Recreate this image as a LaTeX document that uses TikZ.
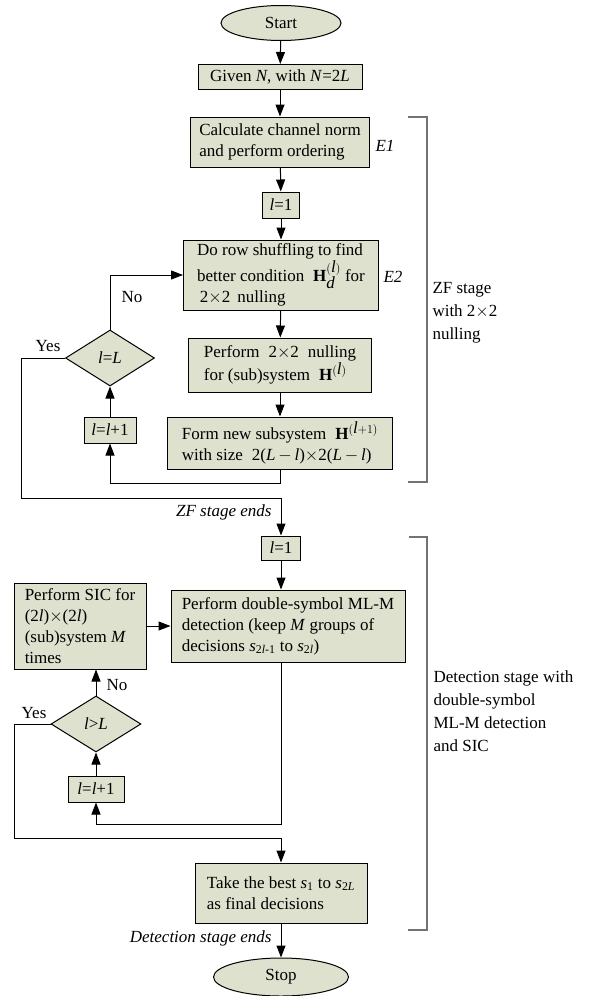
\documentclass[tikz,border=0pt]{standalone}
\usepackage{fontspec}
\setmainfont{Liberation Serif}
\usepackage{tikz}
\usetikzlibrary{arrows.meta,shapes,positioning}
\definecolor{boxfill}{RGB}{221,225,205}
\tikzset{
    startstop/.style={
                ellipse,
                draw=black,
                fill=boxfill,
                inner sep=0pt
            },
        process/.style={
                rectangle,
                draw=black,
                fill=boxfill,
                align=left,
                inner sep=0pt
            },
        decision/.style={
                diamond,
                draw=black,
                fill=boxfill,
                inner sep=0pt
            },
        flow/.style={
                draw=black,
                line width=1pt,
                -{Triangle[length=12pt,width=9pt]}
            },
        plain/.style={draw=none, fill=none, inner sep=0pt},
        bracket/.style={draw=black!55, line width=1.1pt},
}

\begin{document}
\begin{tikzpicture}[
    x=1pt, y=-1pt,
    every node/.style={font=\fontsize{17}{21}\selectfont, line width=1pt},
  ]
  \useasboundingbox (0,0) rectangle (597,996);
  % ZF stage
  \node[startstop, minimum width=120, minimum height=35] (start) at (281,23) {Start};
  \node[process, minimum width=164, minimum height=25] (given) at (280,77) {Given \textit{N}, with \textit{N}=2\textit{L}};
  \node[process, minimum width=179, minimum height=50] (calc) at (280,142) {Calculate channel norm\\and perform ordering};
  \node[plain] (e1) at (385,146) {\textit{E1}};
  \node[process, minimum width=37, minimum height=26] (init1) at (281,205) {\textit{l}=1};
  \node[process, minimum width=195, minimum height=70] (shuffle) at (281,275)
      {Do row shuffling to find\\better condition\; $\textbf{H}_{\textit{d}}^{(\textit{l})}$ for\\\,2$\times$2\, nulling};
  \node[plain] (e2) at (393,277) {\textit{E2}};
  \node[process, minimum width=183, minimum height=54] (null) at (280,365)
      {Perform\; 2$\times$2\; nulling\\for (sub)system\; $\textbf{H}^{(\textit{l})}$};
  \node[process, minimum width=225, minimum height=52] (form) at (280,443)
      {Form new subsystem\; $\textbf{H}^{(\textit{l}+1)}$\\with size\; 2(\textit{L}\,$-$\,\textit{l})$\times$2(\textit{L}\,$-$\,\textit{l})};
  \node[process, minimum width=52, minimum height=26] (inc1) at (110,430) {\textit{l}=\textit{l}+1};
  \node[decision, minimum width=89, minimum height=56] (dec1) at (110,358) {\textit{l}=\textit{L}};
  \node[plain] (no1) at (132,297) {No};
  \node[plain] (yes1) at (48,346) {Yes};
  \node[plain, anchor=east] (zfend) at (272,512) {\textit{ZF stage ends}};
  % Detection stage
  \node[process, minimum width=39, minimum height=24] (init2) at (281,548) {\textit{l}=1};
  \node[process, minimum width=234, minimum height=72] (detect) at (288,626)
      {Perform double-symbol ML-M\\detection (keep \textit{M} groups of\\decisions \textit{s}\textsubscript{2\textit{l}-1} to \textit{s}\textsubscript{2\textit{l}})};
  \node[process, minimum width=132, minimum height=86] (sic) at (80,626)
      {Perform SIC for\\(2\textit{l})$\times$(2\textit{l})\\(sub)system \textit{M}\\times};
  \node[decision, minimum width=90, minimum height=56] (dec2) at (96,724) {\textit{l}>\textit{L}};
  \node[plain] (no2) at (117,685) {No};
  \node[plain] (yes2) at (34,713) {Yes};
  \node[process, minimum width=56, minimum height=26] (inc2) at (96,789) {\textit{l}=\textit{l}+1};
  \node[process, minimum width=172, minimum height=60] (best) at (281,893)
      {Take the best \textit{s}\textsubscript{1} to \textit{s}\textsubscript{2\textit{L}}\\as final decisions};
  \node[plain, anchor=east] (detend) at (272,938) {\textit{Detection stage ends}};
  \node[startstop, minimum width=135, minimum height=38] (stop) at (281,977) {Stop};
  % Stage labels
  \node[plain, anchor=west, align=left, font=\fontsize{17}{23}\selectfont] (zflabel) at (432,313)
      {ZF stage\\with 2$\times$2\\nulling};
  \node[plain, anchor=west, align=left, font=\fontsize{17}{23}\selectfont] (detlabel) at (433,711)
      {Detection stage with\\double-symbol\\ML-M detection\\and SIC};
  \coordinate (zfL) at (21,498);
  \coordinate (detL) at (14,838);
  % Connectors
  \draw[flow] (start) -- (given);
  \draw[flow] (given) -- (calc);
  \draw[flow] (calc) -- (init1);
  \draw[flow] (init1) -- (shuffle);
  \draw[flow] (shuffle) -- (null);
  \draw[flow] (null) -- (form);
  \draw[flow] (form.south) -- ++(0,14) -| (inc1.south);
  \draw[flow] (inc1) -- (dec1);
  \draw[flow] (dec1.north) |- (shuffle.west);
  \draw[flow] (dec1.west) -| (zfL) -| (init2.north);
  \draw[flow] (init2.south) -- (init2.south |- detect.north);
  \draw[flow] (sic.east) -- (sic.east -| detect.west);
  \draw[flow] (init2.south |- detect.south) -- ++(0,162) -| (inc2.south);
  \draw[flow] (inc2) -- (dec2);
  \draw[flow] (dec2.north) -- (dec2.north |- sic.south);
  \draw[flow] (dec2.west) -| (detL) -| (best.north);
  \draw[flow] (best) -- (stop);
  % Brackets
  \draw[bracket] (408,117) -- (427,117) -- (427,482) -- (408,482);
  \draw[bracket] (409,537) -- (427,537) -- (427,930) -- (408,930);
\end{tikzpicture}
\end{document}
